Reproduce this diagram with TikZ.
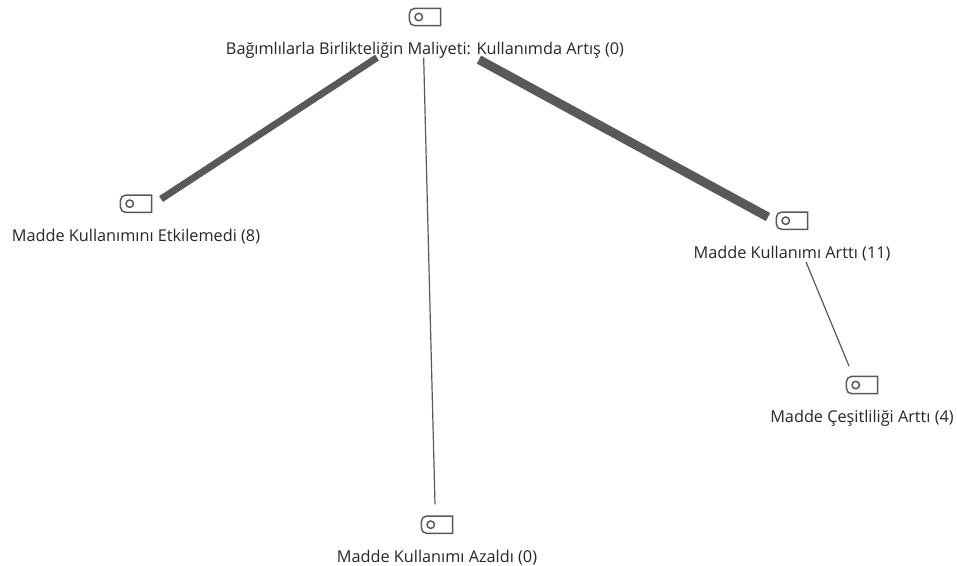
\documentclass[tikz,border=0pt]{standalone}
\usepackage{fontspec}
\setmainfont{Open Sans}

\tikzset{
    tagline/.style = {draw=black!65, line width=1.1pt},
    concept/.style = {align=center, inner sep=0pt, text=black!85, font=\fontsize{12.2}{14}\selectfont},
    edge/.style = {draw=black!65, line cap=butt},
    thinedge/.style = {edge, line width=0.9pt},
}
\newcommand{\tagicon}{\tikz{
    \draw[tagline] (24.4pt,0) -- (5pt,0) arc (270:180:4pt) -- (1pt,9pt) arc (180:90:4pt) -- (24.4pt,13pt) -- cycle;
    \draw[tagline] (8pt,6.5pt) circle (2.8pt);
}}

\begin{document}
\begin{tikzpicture}[x=0.75pt, y=-0.75pt]
    \useasboundingbox (0,0) rectangle (957,566);
    \node[concept] (cost) at (425,33) {\tagicon\\[7pt]Bağımlılarla Birlikteliğin Maliyeti: Kullanımda Artış (0)};
    \node[concept] (same) at (136,219) {\tagicon\\[7pt]Madde Kullanımını Etkilemedi (8)};
    \node[concept] (more) at (792,236) {\tagicon\\[7pt]Madde Kullanımı Arttı (11)};
    \node[concept] (less) at (437,540) {\tagicon\\[7pt]Madde Kullanımı Azaldı (0)};
    \node[concept] (variety) at (862,401) {\tagicon\\[7pt]Madde Çeşitliliği Arttı (4)};

    \draw[edge, line width=5.2pt] ([xshift=-36pt,yshift=0.75pt]cost.south) -- ([xshift=18.75pt,yshift=-3.75pt]same.north);
    \draw[edge, line width=6.8pt] ([xshift=40.5pt,yshift=-0.75pt]cost.south) -- ([xshift=-18pt,yshift=-4.5pt]more.north);
    \draw[thinedge] ([xshift=-1pt,yshift=0.75pt]cost.south) -- ([xshift=-1.5pt,yshift=8pt]less.north);
    \draw[thinedge] ([xshift=10.5pt,yshift=-0.75pt]more.south) -- ([xshift=-9.75pt,yshift=7pt]variety.north);
\end{tikzpicture}
\end{document}
